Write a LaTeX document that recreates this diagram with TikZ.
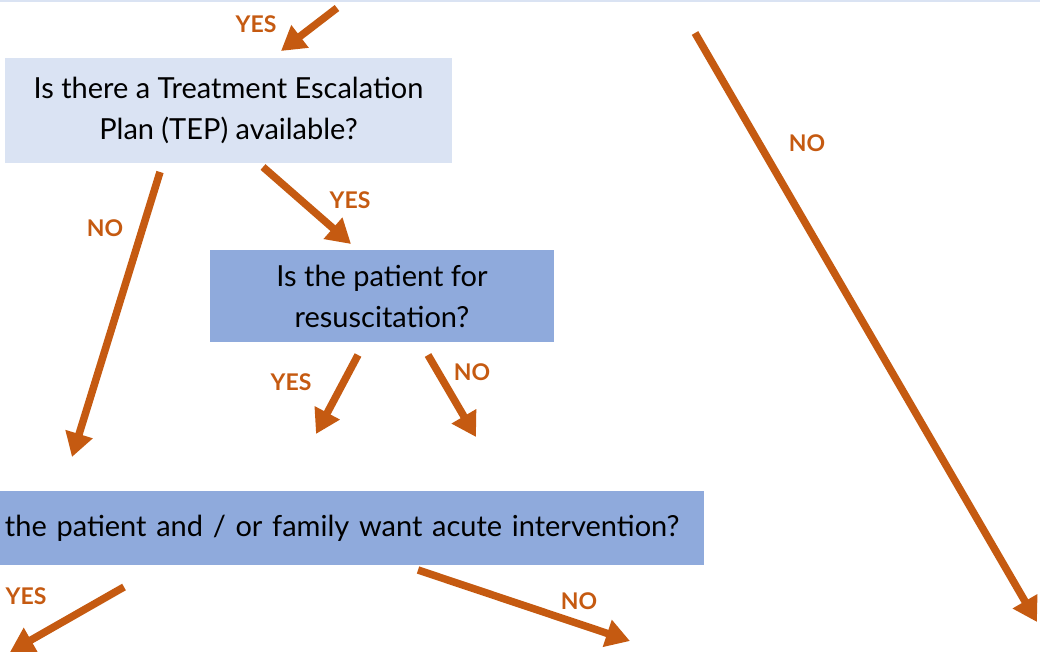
\documentclass[tikz,border=0pt]{standalone}
\usepackage{fontspec}
\setmainfont{Lato}
\usetikzlibrary{arrows.meta}
\definecolor{lightbox}{HTML}{DAE3F3}
\definecolor{midbox}{HTML}{8FAADC}
\definecolor{arr}{HTML}{C55A11}
\tikzset{
  qbox/.style={draw=none, inner sep=0pt, align=center, font=\fontsize{29}{41}\selectfont, text=black},
  fatarrow/.style={draw=arr, line width=7.5pt, -{Triangle[length=24pt,width=27pt]}},
  lbl/.style={text=arr, font=\fontsize{23}{26}\selectfont\bfseries, inner sep=0pt}
}
\begin{document}
\begin{tikzpicture}[x=1pt,y=-1pt]
\useasboundingbox (0,0) rectangle (1040,652);
\fill[lightbox] (0,0) rectangle (1040,2);
% boxes
\node[qbox, fill=lightbox, minimum width=447pt, minimum height=105pt] (b1) at (228.5,110.5) {Is there a Treatment Escalation\\Plan (TEP) available?};
\node[qbox, fill=midbox, minimum width=344pt, minimum height=92pt] (b2) at (382,296) {Is the patient for\\resuscitation?};
\node[qbox, fill=midbox, minimum width=704pt, minimum height=74pt, text width=694pt, align=left, inner xsep=5pt] (b3) at (352,528) {the patient and / or family want acute intervention?};
% arrow end points
\coordinate (a1s) at (337,8);   \coordinate (a1e) at (281,51);
\coordinate (a2s) at (695,33);  \coordinate (a2e) at (1037,622);
\coordinate (a3s) at (160,172); \coordinate (a3e) at (72,457);
\coordinate (a4s) at (263,167); \coordinate (a4e) at (351,244);
\coordinate (a5s) at (358,355); \coordinate (a5e) at (316,434);
\coordinate (a6s) at (428,355); \coordinate (a6e) at (476,437);
\coordinate (a7s) at (124,587); \coordinate (a7e) at (10,652);
\coordinate (a8s) at (418,570); \coordinate (a8e) at (630,641);
\draw[fatarrow] (a1s) -- (a1e);
\draw[fatarrow] (a2s) -- (a2e);
\draw[fatarrow] (a3s) -- (a3e);
\draw[fatarrow] (a4s) -- (a4e);
\draw[fatarrow] (a5s) -- (a5e);
\draw[fatarrow] (a6s) -- (a6e);
\draw[fatarrow] (a7s) -- (a7e);
\draw[fatarrow] (a8s) -- (a8e);
% labels
\node[lbl] (l1) at (256,24) {YES};
\node[lbl] (l2) at (807,143) {NO};
\node[lbl] (l3) at (105,228) {NO};
\node[lbl] (l4) at (350,200) {YES};
\node[lbl] (l5) at (291,382) {YES};
\node[lbl] (l6) at (472,372) {NO};
\node[lbl] (l7) at (26,596) {YES};
\node[lbl] (l8) at (579,601) {NO};
\end{tikzpicture}
\end{document}
